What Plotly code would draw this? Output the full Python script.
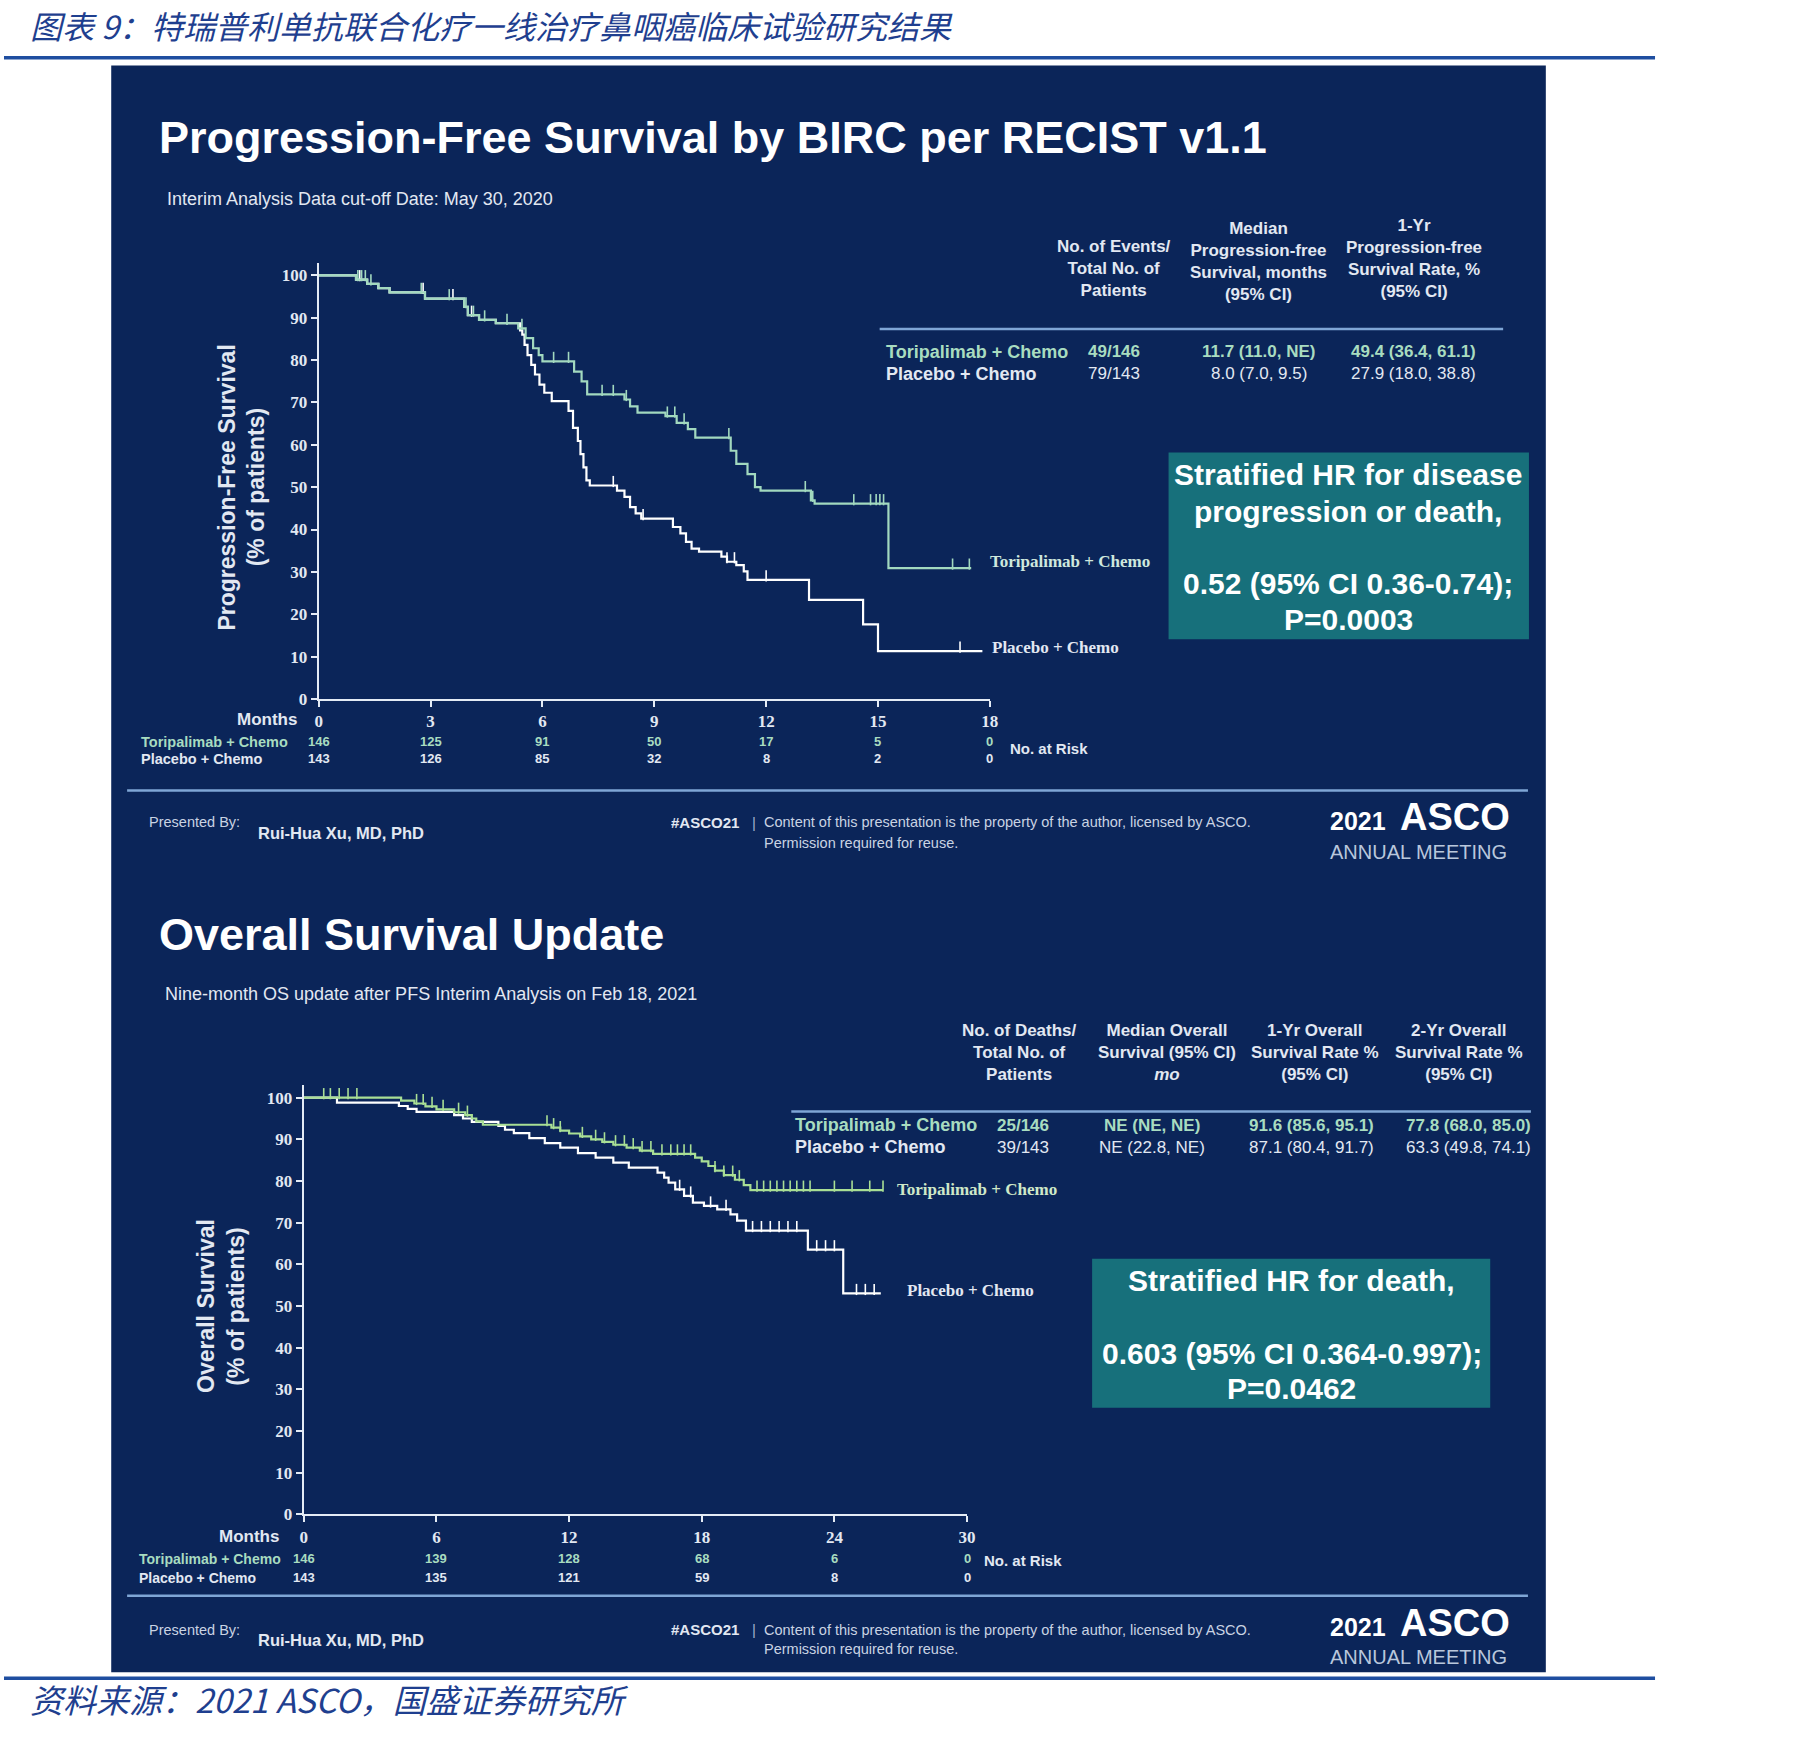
import plotly.graph_objects as go

W, H = 1807, 1740
def X(px): return px / W
def Y(py): return 1 - py / H

SANS = "Liberation Sans, Arial, sans-serif"
SERIF = "Liberation Serif, Times New Roman, serif"
CJK = "Noto Sans CJK SC, sans-serif"

NAVY = "#0b2559"
TEAL = "#17707b"
SEP = "#7fa6d6"
AXC = "#e4ebf5"
GREEN_PFS = "#a2d9bf"
GREEN_OS = "#a9df95"
GREEN_TXT = "#a8dcc0"
WHITE = "#ffffff"
LIGHT = "#e2e8f2"
HDR_BLUE = "#1f3f8f"

# ---------------- data ----------------
pfs_ticks = [0, 3, 6, 9, 12, 15, 18]
pfs_risk_tor = [146, 125, 91, 50, 17, 5, 0]
pfs_risk_plc = [143, 126, 85, 32, 8, 2, 0]

pfs_tor_t = [0, 1.0, 1.3, 1.6, 1.9, 2.85, 3.9, 4.0, 4.3, 4.75, 5.35, 5.55, 5.75, 5.9, 6.0,
             6.85, 7.05, 7.2, 8.2, 8.35, 8.55, 9.3, 9.6, 9.9, 10.1, 11.05, 11.2, 11.5, 11.7,
             11.85, 13.2, 13.3, 15.28]
pfs_tor_s = [100, 99, 98, 97, 96, 94.5, 92.6, 90.6, 89.5, 88.7, 87.5, 85.2, 82.8, 81.2, 79.7,
             77.3, 75, 71.9, 70.7, 69.1, 67.6, 66.8, 65.2, 63.7, 61.7, 58.6, 55.5, 53.1, 50,
             49.2, 46.9, 46.1, 30.9]
pfs_tor_end = 17.5
pfs_tor_cens = [1.05, 1.15, 1.25, 1.4, 2.75, 3.5, 3.95, 4.15, 4.45, 5.05, 5.45, 6.3, 6.7, 7.6,
                7.9, 8.25, 9.35, 9.55, 9.8, 11.0, 13.05, 13.25, 14.35, 14.8, 14.95, 15.05,
                15.15, 17.0, 17.45]

pfs_plc_t = [0, 1.0, 1.3, 1.6, 1.9, 2.85, 3.9, 4.0, 4.3, 4.75, 5.4, 5.46, 5.52, 5.6, 5.7,
             5.8, 5.92, 6.05, 6.25, 6.7, 6.82, 6.95, 7.02, 7.1, 7.18, 7.27, 8.0, 8.2, 8.35,
             8.5, 8.65, 9.5, 9.7, 9.85, 10.0, 10.2, 10.8, 10.95, 11.2, 11.4, 11.5, 13.15,
             14.6, 15.0]
pfs_plc_s = [100, 99, 98, 97, 96, 94.5, 92.6, 90.6, 89.5, 88.7, 87, 86, 83.6, 81.2, 78.9,
             76.6, 74.2, 72.3, 70.3, 68, 64, 60.9, 57.8, 54.7, 51.6, 50.4, 49.2, 47.7, 45.3,
             43.8, 42.6, 40.6, 39.1, 37.1, 35.5, 34.8, 33.6, 32.4, 31.6, 30.1, 28.1, 23.4,
             17.6, 11.3]
pfs_plc_end = 17.8
pfs_plc_cens = [1.1, 2.8, 3.6, 4.1, 7.9, 8.7, 10.95, 11.15, 12.0, 17.2]

os_ticks = [0, 6, 12, 18, 24, 30]
os_risk_tor = [146, 139, 128, 68, 6, 0]
os_risk_plc = [143, 135, 121, 59, 8, 0]

os_tor_t = [0, 4.4, 5.0, 5.5, 6.0, 6.8, 7.3, 7.6, 7.8, 8.1, 11.2, 11.6, 12.0, 12.5, 13.0,
            13.5, 14.0, 14.6, 15.2, 15.8, 17.7, 18.0, 18.3, 18.6, 19.0, 19.5, 19.9, 20.2]
os_tor_s = [100, 99.3, 98.6, 97.9, 97.2, 96.5, 95.8, 95.0, 94.3, 93.5, 92.8, 92.1, 91.4, 90.7,
            90.0, 89.4, 88.7, 88.0, 87.3, 86.5, 85.6, 84.7, 83.6, 82.5, 81.4, 80.3, 79.0, 77.8]
os_tor_end = 26.2
os_tor_cens = [0.9, 1.2, 1.6, 2.0, 2.4, 5.1, 5.4, 5.8, 6.3, 7.0, 7.4, 11.0, 11.3, 11.6, 12.6,
               13.2, 13.6, 14.1, 14.5, 14.9, 15.3, 15.7, 16.2, 16.6, 16.9, 17.2, 17.5, 18.6,
               19.0, 19.4, 19.7, 20.5, 20.8, 21.1, 21.4, 21.7, 22.0, 22.3, 22.6, 22.9, 24.0,
               24.8, 25.6, 26.2]

os_plc_t = [0, 1.5, 4.3, 4.7, 5.1, 6.8, 7.2, 7.6, 8.8, 9.1, 9.5, 10.2, 10.9, 11.6, 12.4, 13.2,
            14.0, 14.7, 16.0, 16.3, 16.5, 16.8, 17.2, 17.6, 18.1, 18.7, 19.3, 19.6, 20.0,
            22.8, 24.4]
os_plc_s = [100, 98.8, 98.0, 97.3, 96.6, 95.8, 95.0, 94.2, 93.2, 92.3, 91.5, 90.3, 89.1, 88.0,
            86.7, 85.6, 84.4, 83.2, 82.0, 80.8, 79.6, 78.0, 76.4, 74.8, 74.0, 73.2, 72.0,
            70.5, 68.1, 63.5, 53.0]
os_plc_end = 26.1
os_plc_cens = [17.0, 17.5, 18.4, 19.1, 20.3, 20.7, 21.1, 21.5, 21.9, 22.3, 23.2, 23.6, 24.0,
               25.0, 25.4, 25.8]

pfs_table_head = ["No. of Events/<br>Total No. of<br>Patients",
                  "Median<br>Progression-free<br>Survival, months<br>(95% CI)",
                  "1-Yr<br>Progression-free<br>Survival Rate, %<br>(95% CI)"]
pfs_table_tor = ["49/146", "11.7 (11.0, NE)", "49.4 (36.4, 61.1)"]
pfs_table_plc = ["79/143", "8.0 (7.0, 9.5)", "27.9 (18.0, 38.8)"]

os_table_head = ["No. of Deaths/<br>Total No. of<br>Patients",
                 "Median Overall<br>Survival (95% CI)<br><i>mo</i>",
                 "1-Yr Overall<br>Survival Rate %<br>(95% CI)",
                 "2-Yr Overall<br>Survival Rate %<br>(95% CI)"]
os_table_tor = ["25/146", "NE (NE, NE)", "91.6 (85.6, 95.1)", "77.8 (68.0, 85.0)"]
os_table_plc = ["39/143", "NE (22.8, NE)", "87.1 (80.4, 91.7)", "63.3 (49.8, 74.1)"]

# ---------------- helpers ----------------
def step_val(ts, ss, t):
    v = ss[0]
    for ti, si in zip(ts, ss):
        if ti <= t:
            v = si
    return v

fig = go.Figure()

def km(ts, ss, end, cens, color, xa, ya, offs):
    fig.add_trace(go.Scatter(x=ts + [end], y=ss + [ss[-1]], mode="lines",
                             line=dict(color=color, width=2.2, shape="hv"),
                             xaxis=xa, yaxis=ya, showlegend=False, hoverinfo="skip"))
    fig.add_trace(go.Scatter(x=cens, y=[step_val(ts, ss, c) + offs for c in cens],
                             mode="markers",
                             marker=dict(symbol="line-ns", size=8,
                                         line=dict(color=color, width=1.6)),
                             xaxis=xa, yaxis=ya, showlegend=False, hoverinfo="skip",
                             cliponaxis=False))

# PFS: 100 -> 277px, 0 -> 703px
pfs_ppu = (703 - 277) / 100
# OS: 100 -> 1104px, 0 -> 1523px
os_ppu = (1523 - 1104) / 100

km(pfs_plc_t, pfs_plc_s, pfs_plc_end, pfs_plc_cens, WHITE, "x", "y", 4 / pfs_ppu)
km(pfs_tor_t, pfs_tor_s, pfs_tor_end, pfs_tor_cens, GREEN_PFS, "x", "y", 4 / pfs_ppu)
km(os_plc_t, os_plc_s, os_plc_end, os_plc_cens, WHITE, "x2", "y2", 4 / os_ppu)
km(os_tor_t, os_tor_s, os_tor_end, os_tor_cens, GREEN_OS, "x2", "y2", 4 / os_ppu)

ann = []
def txt(x, y, s, size, color=WHITE, xanchor="left", bold=False, family=SANS,
        yanchor="middle", xref="paper", angle=0, italic=False):
    ann.append(dict(x=x if xref != "paper" else X(x), y=Y(y), xref=xref, yref="paper",
                    text=s, showarrow=False, xanchor=xanchor, yanchor=yanchor,
                    textangle=angle, align="center",
                    font=dict(size=size, color=color, family=family,
                              weight="bold" if bold else "normal",
                              style="italic" if italic else "normal")))

shapes = []
def rect(x0, y0, x1, y1, color):
    shapes.append(dict(type="rect", xref="paper", yref="paper", x0=X(x0), x1=X(x1),
                       y0=Y(y1), y1=Y(y0), fillcolor=color, line=dict(width=0), layer="below"))
def hline(x0, x1, y, color, width):
    shapes.append(dict(type="line", xref="paper", yref="paper", x0=X(x0), x1=X(x1),
                       y0=Y(y), y1=Y(y), line=dict(color=color, width=width), layer="below"))

# background / frame
rect(108, 66, 1553, 1682, NAVY)
hline(0, 1663, 58, "#1f4ea0", 3.5)
hline(0, 1663, 1688, "#1f4ea0", 3.5)

# header / footer text (Chinese)
txt(24, 25, "图表 9：特瑞普利单抗联合化疗一线治疗鼻咽癌临床试验研究结果", 32, HDR_BLUE,
    family=CJK, italic=True)
txt(24, 1709, "资料来源：2021 ASCO，国盛证券研究所", 33, HDR_BLUE, family=CJK, italic=True)

# ---------- PFS slide ----------
txt(154, 138, "<b>Progression-Free Survival by BIRC per RECIST v1.1</b>", 45)
txt(162, 200, "Interim Analysis Data cut-off Date: May 30, 2020", 18, LIGHT)

pfs_cols = [1118, 1264, 1420]
pfs_head_y = [270, 263, 260]
for cx, cy, h in zip(pfs_cols, pfs_head_y, pfs_table_head):
    txt(cx, cy, h, 17, LIGHT, xanchor="center", bold=True)
hline(882, 1510, 331, SEP, 2.5)
txt(886, 354, "Toripalimab + Chemo", 18, GREEN_TXT, bold=True)
txt(886, 376, "Placebo + Chemo", 18, LIGHT, bold=True)
for cx, v1, v2 in zip(pfs_cols, pfs_table_tor, pfs_table_plc):
    txt(cx, 354, v1, 17, GREEN_TXT, xanchor="center", bold=True)
    txt(cx, 376, v2, 17, LIGHT, xanchor="center")

rect(1173, 455, 1536, 643, TEAL)
for yy, s in [(477, "Stratified HR for disease"), (514, "progression or death,"),
              (587, "0.52 (95% CI 0.36-0.74);"), (623, "P=0.0003")]:
    txt(1354, yy, s, 30, WHITE, xanchor="center", bold=True)

txt(225, 490, "Progression-Free Survival", 23, LIGHT, xanchor="center", bold=True, angle=-90)
txt(254, 490, "(% of patients)", 23, LIGHT, xanchor="center", bold=True, angle=-90)
txt(297, 724, "Months", 17, LIGHT, xanchor="right", bold=True)
txt(136, 746, "Toripalimab + Chemo", 14.5, GREEN_TXT, bold=True)
txt(136, 763, "Placebo + Chemo", 14.5, LIGHT, bold=True)
for t, a, b in zip(pfs_ticks, pfs_risk_tor, pfs_risk_plc):
    txt(t, 746, str(a), 13, GREEN_TXT, xanchor="center", bold=True, xref="x")
    txt(t, 763, str(b), 13, LIGHT, xanchor="center", bold=True, xref="x")
txt(1011, 753, "No. at Risk", 15, LIGHT, bold=True)
txt(991, 565, "Toripalimab + Chemo", 17, "#cfe8de", family=SERIF, bold=True)
txt(993, 651, "Placebo + Chemo", 17, LIGHT, family=SERIF, bold=True)

def footer(y_line, y_pres, y_name, y_perm, y_logo, y_am):
    hline(124, 1535, y_line, SEP, 2.5)
    txt(144, y_pres, "Presented By:", 14.5, "#c9d3e3")
    txt(254, y_name, "Rui-Hua Xu, MD, PhD", 16.5, LIGHT, bold=True)
    txt(670, y_pres, "#ASCO21", 15, LIGHT, bold=True)
    txt(751, y_pres, "|", 15, "#9fb0cc")
    txt(763, y_pres, "Content of this presentation is the property of the author, licensed by ASCO.",
        14.5, "#c9d3e3")
    txt(763, y_perm + 2, "Permission required for reuse.", 14.5, "#c9d3e3")
    txt(1334, y_logo, "2021", 25, WHITE, bold=True)
    txt(1404, y_logo - 4, "ASCO", 38, WHITE, bold=True)
    txt(1334, y_am + 3, "ANNUAL MEETING", 20, "#b9c7dc")

footer(795, 827, 838, 846, 826, 854)

# ---------- OS slide ----------
txt(154, 940, "<b>Overall Survival Update</b>", 45)
txt(160, 1000, "Nine-month OS update after PFS Interim Analysis on Feb 18, 2021", 18, LIGHT)

os_cols = [1023, 1171, 1321, 1466]
for cx, h in zip(os_cols, os_table_head):
    txt(cx, 1059, h, 17, LIGHT, xanchor="center", bold=True)
hline(793, 1538, 1118, SEP, 2.5)
txt(795, 1132, "Toripalimab + Chemo", 18, GREEN_TXT, bold=True)
txt(795, 1154, "Placebo + Chemo", 18, LIGHT, bold=True)
os_val_cols = [1026, 1156, 1317, 1475]
for cx, v1, v2 in zip(os_val_cols, os_table_tor, os_table_plc):
    txt(cx, 1132, v1, 17, GREEN_TXT, xanchor="center", bold=True)
    txt(cx, 1154, v2, 17, LIGHT, xanchor="center")

rect(1096, 1266, 1497, 1416, TEAL)
for yy, s in [(1288, "Stratified HR for death,"), (1361, "0.603 (95% CI 0.364-0.997);"),
              (1397, "P=0.0462")]:
    txt(1297, yy, s, 30, WHITE, xanchor="center", bold=True)

txt(204, 1314, "Overall Survival", 23, LIGHT, xanchor="center", bold=True, angle=-90)
txt(234, 1314, "(% of patients)", 23, LIGHT, xanchor="center", bold=True, angle=-90)
txt(279, 1545, "Months", 17, LIGHT, xanchor="right", bold=True)
txt(134, 1568, "Toripalimab + Chemo", 14, GREEN_TXT, bold=True)
txt(134, 1587, "Placebo + Chemo", 14, LIGHT, bold=True)
for t, a, b in zip(os_ticks, os_risk_tor, os_risk_plc):
    txt(t, 1568, str(a), 13, GREEN_TXT, xanchor="center", bold=True, xref="x2")
    txt(t, 1587, str(b), 13, LIGHT, xanchor="center", bold=True, xref="x2")
txt(985, 1570, "No. at Risk", 15, LIGHT, bold=True)
txt(897, 1196, "Toripalimab + Chemo", 17, "#cfe8c8", family=SERIF, bold=True)
txt(908, 1298, "Placebo + Chemo", 17, LIGHT, family=SERIF, bold=True)

footer(1605, 1639, 1649, 1657, 1636, 1664)

# ---------------- axes ----------------
def axis_common():
    return dict(showgrid=False, zeroline=False, showline=True, linecolor=AXC, linewidth=2.2,
                ticks="outside", ticklen=6, tickwidth=2, tickcolor=AXC,
                tickfont=dict(family=SERIF, size=17, color=LIGHT, weight="bold"),
                fixedrange=True)

top_pfs = 277 - 3 * pfs_ppu
top_os = 1104 - 3 * os_ppu
fig.update_layout(
    width=W, height=H, margin=dict(l=0, r=0, t=0, b=0),
    paper_bgcolor="white", plot_bgcolor="rgba(0,0,0,0)",
    shapes=shapes, annotations=ann, showlegend=False,
    xaxis=dict(domain=[X(317), X(993)], range=[0, 18], tickvals=pfs_ticks,
               anchor="y", **axis_common()),
    yaxis=dict(domain=[Y(703), Y(top_pfs)], range=[0, 103], tickvals=list(range(0, 101, 10)),
               anchor="x", **axis_common()),
    xaxis2=dict(domain=[X(302), X(970)], range=[0, 30], tickvals=os_ticks,
                anchor="y2", **axis_common()),
    yaxis2=dict(domain=[Y(1523), Y(top_os)], range=[0, 103], tickvals=list(range(0, 101, 10)),
                anchor="x2", **axis_common()),
)

fig.write_html("out.html")
